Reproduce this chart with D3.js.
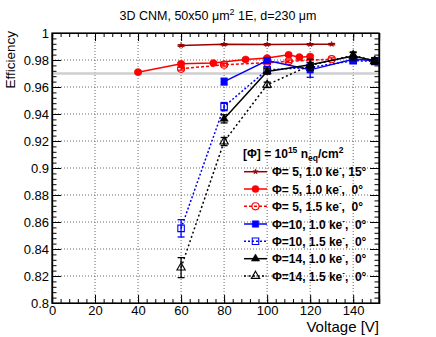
<!DOCTYPE html>
<html><head><meta charset="utf-8">
<script src="https://cdn.jsdelivr.net/npm/d3@7"></script>
<style>body{margin:0;background:#fff}svg{display:block}text{font-family:"Liberation Sans",Arial,sans-serif}</style>
</head><body><svg id="c" width="436" height="337"></svg>
<script>
// ---- data ----
const xTicks = [0,20,40,60,80,100,120,140];
const yTicks = [0.8,0.82,0.84,0.86,0.88,0.9,0.92,0.94,0.96,0.98,1.0];
const refLine = 0.97;

const s1V = [60,80,100,120,130];
const s1E = [0.9907,0.9916,0.9915,0.9916,0.9917];
const s1Err = [0.0005,0.0005,0.0005,0.0005,0.0005];

const s2V = [40,60,75,90,100,110,115,120];
const s2E = [0.971,0.9772,0.9777,0.9804,0.9814,0.9838,0.9821,0.9826];
const s2Err = [0.0008,0.001,0.001,0.001,0.001,0.001,0.001,0.001];

const s3V = [60,80,100,110,130];
const s3E = [0.9735,0.9765,0.978,0.979,0.9806];
const s3Err = [0.001,0.001,0.001,0.001,0.001];

const s4V = [80,100,120,140,150];
const s4E = [0.964,0.9796,0.9727,0.9805,0.9796];
const s4Err = [0.0025,0.002,0.0055,0.002,0.002];

const s5V = [60,80,100,120,140,150];
const s5E = [0.8553,0.9455,0.9727,0.9745,0.9795,0.979];
const s5Err = [0.0064,0.003,0.002,0.002,0.002,0.002];

const s6V = [80,100,120,140,150];
const s6E = [0.9364,0.9715,0.9765,0.983,0.9795];
const s6Err = [0.003,0.002,0.004,0.003,0.002];

const s7V = [60,80,100,120,140,150];
const s7E = [0.8262,0.9196,0.9616,0.976,0.9835,0.979];
const s7Err = [0.0074,0.003,0.002,0.002,0.002,0.002];

const seriesNames = ["Φ= 5, 1.0 ke", "Φ= 5, 1.0 ke", "Φ= 5, 1.5 ke", "Φ=10, 1.0 ke", "Φ=10, 1.5 ke", "Φ=14, 1.0 ke", "Φ=14, 1.5 ke"];
const seriesAngles = [", 15°", ",  0°", ",  0°", ",  0°", ",  0°", ",  0°", ",  0°"];

// ---- setup ----
const W=436,H=337, L=52, T=33, R=379, B=303;
const svg = d3.select("#c");
const x = d3.scaleLinear().domain([0,152]).range([L,R]);
const y = d3.scaleLinear().domain([0.8,1.0]).range([B,T]);

const styles = [
  {c:"#990000", dash:null, m:"star", fill:true},
  {c:"#ff0000", dash:null, m:"circle", fill:true},
  {c:"#ff0000", dash:"3,2", m:"circle", fill:false},
  {c:"#0000ff", dash:null, m:"square", fill:true},
  {c:"#0000ff", dash:"2,2", m:"square", fill:false},
  {c:"#000000", dash:null, m:"triangle", fill:true},
  {c:"#000000", dash:"2,2.5", m:"triangle", fill:false}
];
const series = [
  [s1V,s1E,s1Err],[s2V,s2E,s2Err],[s3V,s3E,s3Err],[s4V,s4E,s4Err],
  [s5V,s5E,s5Err],[s6V,s6E,s6Err],[s7V,s7E,s7Err]
];

// grid
const g = svg.append("g");
g.selectAll(".gx").data(xTicks.filter(v=>v>0)).join("line")
  .attr("x1",d=>x(d)).attr("x2",d=>x(d)).attr("y1",T).attr("y2",B)
  .attr("stroke","#444").attr("stroke-width",0.8).attr("stroke-dasharray","1,2");
g.selectAll(".gy").data(yTicks.filter(v=>v>0.8 && v<1)).join("line")
  .attr("y1",d=>y(d)).attr("y2",d=>y(d)).attr("x1",L).attr("x2",R)
  .attr("stroke","#444").attr("stroke-width",0.8).attr("stroke-dasharray","1,2");

// reference line
svg.append("line").attr("x1",L).attr("x2",R).attr("y1",y(refLine)).attr("y2",y(refLine))
  .attr("stroke","#cfcfcf").attr("stroke-width",2.5);

// axes
const xMinor = d3.range(0,153,4);
const yMinor = d3.range(0,51).map(i=>+(0.8+i*0.004).toFixed(3));
const fmtY = d=>String(+d.toFixed(2));
function ax(axisGen, tr){
  const a = svg.append("g").attr("transform",tr).call(axisGen);
  a.select(".domain").attr("stroke","#000");
  a.selectAll("line").attr("stroke","#000");
  return a;
}
// bottom
const bx = ax(d3.axisBottom(x).tickValues(xTicks).tickSize(-8).tickPadding(3).tickFormat(d3.format("d")), `translate(0,${B})`);
bx.selectAll("text").attr("font-size",13).attr("fill","#000");
ax(d3.axisBottom(x).tickValues(xMinor).tickSize(-4).tickFormat(""), `translate(0,${B})`);
// top
ax(d3.axisTop(x).tickValues(xTicks).tickSize(-8).tickFormat(""), `translate(0,${T})`);
ax(d3.axisTop(x).tickValues(xMinor).tickSize(-4).tickFormat(""), `translate(0,${T})`);
// left
const ly = ax(d3.axisLeft(y).tickValues(yTicks).tickSize(-9).tickPadding(3).tickFormat(fmtY), `translate(${L},0)`);
ly.selectAll("text").attr("font-size",13).attr("fill","#000");
ax(d3.axisLeft(y).tickValues(yMinor).tickSize(-4.5).tickFormat(""), `translate(${L},0)`);
// right
ax(d3.axisRight(y).tickValues(yTicks).tickSize(-9).tickFormat(""), `translate(${R},0)`);
ax(d3.axisRight(y).tickValues(yMinor).tickSize(-4.5).tickFormat(""), `translate(${R},0)`);
svg.selectAll(".domain").attr("stroke-width",1.2);

// markers
function marker(sel, st, cx, cy, scale){
  const s = scale||1;
  let sym;
  if(st.m==="circle") sym = d3.symbol(d3.symbolCircle, 40*s);
  else if(st.m==="square") sym = d3.symbol(d3.symbolSquare, 42*s);
  else if(st.m==="triangle") sym = d3.symbol(d3.symbolTriangle, 30*s);
  else sym = d3.symbol(d3.symbolStar, 9*s);
  const p = sel.append("path").attr("d",sym()).attr("transform",`translate(${cx},${cy})`);
  if(st.m==="star"){ p.attr("fill",st.c).attr("stroke",st.c).attr("stroke-width",0.5); }
  else if(st.fill){ p.attr("fill",st.c).attr("stroke",st.c).attr("stroke-width",0.5); }
  else { p.attr("fill","none").attr("stroke",st.c).attr("stroke-width",1.1); }
}

const plot = svg.append("g");
series.forEach((s,i)=>{
  const st = styles[i];
  const pts = s[0].map((v,j)=>({v, e:s[1][j], err:s[2][j]}));
  const line = d3.line().x(d=>x(d.v)).y(d=>y(d.e));
  plot.append("path").datum(pts).attr("d",line).attr("fill","none")
    .attr("stroke",st.c).attr("stroke-width",1.5).attr("stroke-dasharray",st.dash);
  const eg = plot.append("g").attr("stroke",st.c).attr("stroke-width",1.3);
  pts.forEach(d=>{
    eg.append("line").attr("x1",x(d.v)).attr("x2",x(d.v)).attr("y1",y(d.e-d.err)).attr("y2",y(d.e+d.err));
    [d.e-d.err,d.e+d.err].forEach(ev=>{
      eg.append("line").attr("x1",x(d.v)-3.5).attr("x2",x(d.v)+3.5).attr("y1",y(ev)).attr("y2",y(ev));
    });
  });
  pts.forEach(d=>marker(plot, st, x(d.v), y(d.e)));
});

// frame on top
svg.append("rect").attr("x",L).attr("y",T).attr("width",R-L).attr("height",B-T)
  .attr("fill","none").attr("stroke","#000").attr("stroke-width",1.2);

// title
const tt = svg.append("text").attr("x",218).attr("y",20).attr("text-anchor","middle").attr("font-size",12.5).attr("fill","#000");
tt.append("tspan").text("3D CNM, 50x50 μm");
tt.append("tspan").attr("dy",-5).attr("font-size",9).text("2");
tt.append("tspan").attr("dy",5).text(" 1E, d=230 μm");

// axis titles
svg.append("text").attr("x",R).attr("y",332).attr("text-anchor","end").attr("font-size",15).text("Voltage [V]");
svg.append("text").attr("transform",`translate(15,${T-2}) rotate(-90)`).attr("text-anchor","end").attr("font-size",13.5).text("Efficiency");

// legend
const lg = svg.append("g");
const hd = lg.append("text").attr("x",243).attr("y",158).attr("font-size",12).attr("font-weight","bold");
hd.append("tspan").text("[Φ] = 10");
hd.append("tspan").attr("dy",-5).attr("font-size",8.5).text("15");
hd.append("tspan").attr("dy",5).text(" n");
hd.append("tspan").attr("dy",3).attr("font-size",8.5).text("eq");
hd.append("tspan").attr("dy",-3).text("/cm");
hd.append("tspan").attr("dy",-5).attr("font-size",8.5).text("2");

const rowY = [171.7,189,206.3,224,241.3,258.7,276];
seriesNames.forEach((nm,i)=>{
  const st = styles[i];
  const yy = rowY[i];
  lg.append("line").attr("x1",244).attr("x2",267).attr("y1",yy).attr("y2",yy)
    .attr("stroke",st.c).attr("stroke-width",1.5).attr("stroke-dasharray",st.dash);
  marker(lg, st, 255.5, yy);
  const t = lg.append("text").attr("x",272).attr("y",yy+4.5).attr("font-size",12).attr("font-weight","bold");
  t.append("tspan").text(nm);
  t.append("tspan").attr("dy",-6).attr("font-size",8).text("-");
  t.append("tspan").attr("dy",6).attr("xml:space","preserve").style("white-space","pre").text(seriesAngles[i]);
});
</script></body></html>
